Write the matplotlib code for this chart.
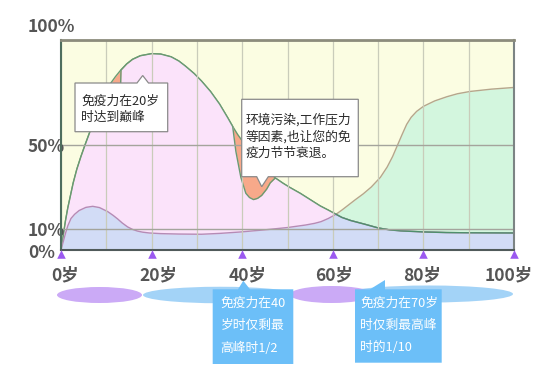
import matplotlib
matplotlib.use("Agg")
import matplotlib.pyplot as plt
from matplotlib.patches import Polygon, Ellipse
from matplotlib.transforms import ScaledTranslation

plt.rcParams['font.family'] = ['Noto Sans CJK SC', 'DejaVu Sans']

# ---------------- data ----------------
orange_age = [0, 0.5, 1, 1.5, 2, 2.7, 3.5, 4.4, 5.3, 6.5, 8, 9.5, 10.7, 12, 13.2, 14.5, 15.8, 17.5, 20,
              22, 24.3, 26, 27.5, 29.4, 31, 33, 35, 36.8, 38, 39, 41, 43, 45, 47.3,
              49, 50.5, 52.8, 55, 57.2, 59, 60.7]
orange_val = [0, 7, 14, 20, 25, 32, 38.5, 44.5, 50, 57, 65, 72, 78.6, 82.5, 85.7, 88.6, 90.8, 92.5, 93.5,
              93.3, 92, 90, 87.5, 84, 80.5, 75.5, 69.5, 63, 58.5, 55, 49, 44, 39.3, 34.3,
              31.8, 29.8, 27, 24, 21, 19, 17]

pink_age = [0, 0.5, 1, 1.5, 2, 2.7, 3.5, 4.4, 5.3, 6.5, 8, 9.5, 10.5, 12, 13.1, 13.25, 14.5, 15.8, 17.5, 20,
            22, 24.3, 26, 27.5, 29.4, 31, 33, 35, 36.8, 37.9, 38.6, 39.7, 40.8, 41.6, 42.5, 43.4, 44.3,
            45.4, 46.2, 47.3, 49, 50.5, 52.8, 55, 57.2, 59, 60.7,
            62, 64, 67, 70, 72.5, 75, 80, 85, 90, 100]
pink_val = [0, 7, 14, 20, 25, 32, 38.5, 44.5, 50, 57, 65, 72, 75, 74, 74, 85.7, 88.6, 90.8, 92.5, 93.5,
            93.3, 92, 90, 87.5, 84, 80.5, 75.5, 69.5, 63, 58.8, 47, 34.6, 27, 25, 24, 24.6, 26,
            29, 32, 34.3, 31.8, 29.8, 27, 24, 21, 19, 17,
            15.5, 14, 12.3, 10.5, 9.6, 9.1, 8.6, 8.3, 8.2, 8.1]

blue_age = [0, 0.5, 1, 1.5, 2.2, 3, 4, 5.5, 7, 8.5, 10.3, 11.5, 12.5, 13.5, 14.7, 15.8, 16.9, 18, 19.5,
            22, 26, 31, 35, 39.7, 45, 50, 54, 56, 57.4, 59, 60.7,
            62, 64, 67, 70, 72.5, 75, 80, 85, 90, 100]
blue_val = [0, 4, 8, 11.5, 15, 17, 18.8, 20.3, 20.8, 20.2, 18.3, 16.5, 14.8, 12.9, 11, 9.8, 9, 8.5, 8.1,
            7.8, 7.6, 7.5, 7.9, 8.6, 9.6, 10.7, 11.9, 12.7, 13.5, 15, 17,
            15.5, 14, 12.3, 10.5, 9.6, 9.1, 8.6, 8.3, 8.2, 8.1]

green_age = [0, 50, 55, 60.7, 62, 63.5, 65, 66.7, 68.5, 70.5, 72, 73.2, 74.2, 75.3, 76.3, 77.3, 78.5,
             80, 82.5, 85.2, 87.5, 90.3, 95, 100]
green_val = [0, 5, 10, 17, 19, 21.5, 24, 26.7, 30, 34.6, 39.5, 44.5, 49.5, 55, 59.8, 63.2, 66,
             68.4, 71, 73, 74.4, 75.5, 76.6, 77.4]

x_ticks = [0, 20, 40, 60, 80, 100]
x_labels = ['0岁', '20岁', '40岁', '60岁', '80岁', '100岁']
y_ticks = [0, 10, 50, 100]
y_labels = ['0%', '10%', '50%', '100%']

note_peak = ['免疫力在20岁', '时达到巅峰']
note_env = ['环境污染,工作压力', '等因素,也让您的免', '疫力节节衰退。']
note_40 = ['免疫力在40', '岁时仅剩最', '高峰时1/2']
note_70 = ['免疫力在70岁', '时仅剩最高峰', '时的1/10']

# ---------------- figure ----------------
W, H = 551, 388
fig = plt.figure(figsize=(W / 100, H / 100), dpi=100)
L, R, T, B = 61, 514, 40, 250
ax = fig.add_axes([L / W, 1 - B / H, (R - L) / W, (B - T) / H])
ax.set_facecolor('#fbfde2')
ax.set_xlim(0, 100)
ax.set_ylim(0, 99)

ax.fill_between(green_age, green_val, 0, color='#d3f6de', lw=0, zorder=1.0)
ax.plot(green_age, green_val, color='#b5a68c', lw=1, zorder=1.05)
ax.fill_between(orange_age, orange_val, 0, color='#f7a98a', lw=0, zorder=1.1)
ax.plot(orange_age, orange_val, color='#6a9a72', lw=1, zorder=1.15)
ax.fill_between(pink_age, pink_val, 0, color='#fbe3fa', lw=0, zorder=1.2)
ax.plot(pink_age, pink_val, color='#6a9a72', lw=1, zorder=1.25)
ax.fill_between(blue_age, blue_val, 0, color='#d2dcf6', lw=0, zorder=1.3)
ax.plot(blue_age, blue_val, color='#b58bb5', lw=1, zorder=1.35)
k = pink_age.index(60.7)
ax.plot(pink_age[k:], pink_val[k:], color='#4f8f6c', lw=1, zorder=1.4)

ax.set_axisbelow('line')
ax.set_xticks(x_ticks)
ax.set_xticks(range(10, 100, 20), minor=True)
ax.set_xticklabels(x_labels)
ax.set_yticks(y_ticks)
ax.set_yticklabels(y_labels)
ax.grid(True, axis='x', which='both', color='#c9ccba', lw=0.9)
ax.grid(True, axis='y', which='major', color='#a4a49c', lw=1)
ax.tick_params(axis='both', which='both', length=0)
ax.tick_params(axis='x', pad=12, labelsize=12.5, labelcolor='#555555')
ax.tick_params(axis='y', pad=23.8, labelsize=12.5, labelcolor='#555555')
for lab in ax.get_xticklabels() + ax.get_yticklabels():
    lab.set_fontweight('bold')
for lab in ax.get_yticklabels():
    lab.set_ha('left')
x_off = [4, 7, 5, 1, -1, -5]
for lab, dx in zip(ax.get_xticklabels(), x_off):
    lab.set_transform(lab.get_transform() + ScaledTranslation(dx / 100, 0, fig.dpi_scale_trans))
ylabs = ax.get_yticklabels()
ylabs[-1].set_transform(ylabs[-1].get_transform() + ScaledTranslation(0, 15 / 100, fig.dpi_scale_trans))
ylabs[0].set_transform(ylabs[0].get_transform() + ScaledTranslation(0, -1 / 100, fig.dpi_scale_trans))

for side, col, lw in [('left', '#4e6e5e', 1.5), ('bottom', '#505a5a', 1.5),
                      ('top', '#8c8c7c', 2), ('right', '#7c8484', 1.5)]:
    ax.spines[side].set_color(col)
    ax.spines[side].set_linewidth(lw)

ax.scatter(x_ticks, [-2] * len(x_ticks), marker='^', s=38, color='#9b59f0', clip_on=False, zorder=5, lw=0)

# ---------------- overlay (pixel coords) ----------------
ov = fig.add_axes([0, 0, 1, 1], zorder=10)
ov.set_xlim(0, W)
ov.set_ylim(H, 0)
ov.axis('off')
ov.patch.set_visible(False)

for cx, cy, w, h in [(220, 295, 154, 16.5), (429, 294, 168, 17)]:
    ov.add_patch(Ellipse((cx, cy), w, h, color='#a3d3f7', lw=0))
for cx, cy, w, h in [(99.5, 295, 85, 16), (331.5, 294.5, 83, 17)]:
    ov.add_patch(Ellipse((cx, cy), w, h, color='#cbaaf6', lw=0))

ov.add_patch(Polygon([(75, 83), (137, 83), (142.7, 75.5), (148.5, 83), (167.7, 83), (167.7, 131.7), (75, 131.7)],
                     closed=True, fc='white', ec='#8a8a8a', lw=0.9))
ov.add_patch(Polygon([(241.7, 99.3), (358.3, 99.3), (358.3, 176.7), (268.3, 176.7), (261.7, 186.7),
                      (256.7, 176.7), (241.7, 176.7)], closed=True, fc='white', ec='#8a8a8a', lw=0.9))
ov.add_patch(Polygon([(212.7, 289.3), (238, 289.3), (243.3, 280.7), (250, 289.3), (293.3, 289.3),
                      (293.3, 364), (212.7, 364)], closed=True, fc='#6cbff8', lw=0))
ov.add_patch(Polygon([(355, 289.3), (370, 289.3), (385, 280), (385, 289.3), (441.7, 289.3),
                      (441.7, 362.7), (355, 362.7)], closed=True, fc='#6cbff8', lw=0))

for i, t in enumerate(note_peak):
    ov.text(81, 101.7 + i * 15.6, t, fontsize=9.2, color='#2a2a2a', va='center', ha='left')
for i, t in enumerate(note_env):
    ov.text(246, 120 + i * 16.7, t, fontsize=9.2, color='#2a2a2a', va='center', ha='left')
for i, t in enumerate(note_40):
    ov.text(220.7, 303 + i * 22.5, t, fontsize=9.2, color='white', va='center', ha='left')
for i, t in enumerate(note_70):
    ov.text(360, 303 + i * 22.3, t, fontsize=9.2, color='white', va='center', ha='left')

fig.savefig('out.png', dpi=100)
